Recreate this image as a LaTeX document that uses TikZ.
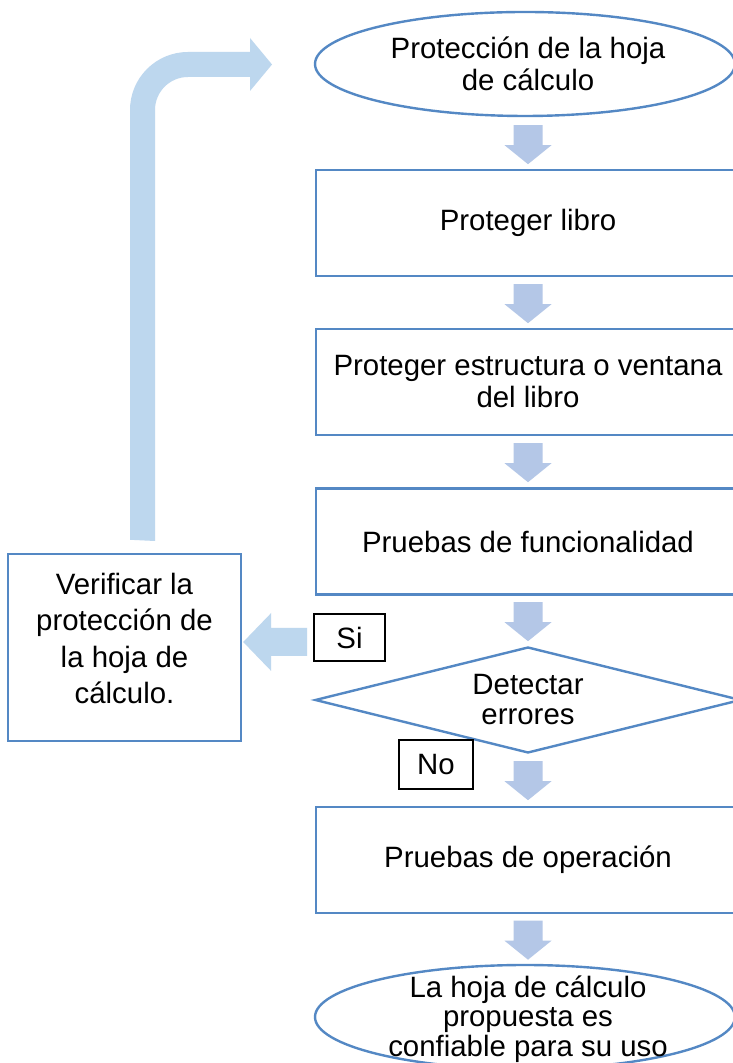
\documentclass[tikz,border=0pt]{standalone}
\usepackage{fontspec}
\setmainfont{Liberation Sans}
\usetikzlibrary{shapes.geometric,calc}
\definecolor{bord}{RGB}{84,136,196}
\definecolor{arrA}{RGB}{180,199,231}
\definecolor{arrB}{RGB}{189,215,238}
\newcommand\DArr[2]{\fill[arrA] ($#1+(-14.5,#2)$) -- ++(29,0) -- ++(0,-20) -- ++(9,0) -- ++(-23.5,-19) -- ++(-23.5,19) -- ++(9,0) -- cycle;}
\begin{document}
\begin{tikzpicture}[x=1pt,y=1pt,
  every node/.style={font=\fontsize{29.4}{32}\selectfont, align=center, inner sep=0pt},
  stepbox/.style={draw=bord, line width=2.4pt, rectangle, minimum width=424pt, minimum height=106pt},
  terminal/.style={draw=bord, line width=2.4pt, ellipse, minimum width=420pt, minimum height=104pt},
  decision/.style={draw=bord, line width=2.4pt, diamond, aspect=4, minimum width=426pt, minimum height=106pt},
  tag/.style={draw=black, line width=1.1pt, rectangle}]
\useasboundingbox (0,0) rectangle (733,1063);
\fill[white] (0,0) rectangle (733,1063);

% terminals
\node[terminal] (e1) at (525,999) {};
\node (e1t) at (528,999) {Protección de la hoja\\de cálculo};

\node[stepbox] (b1) at (528,840) {Proteger libro};
\node[stepbox] (b2) at (528,681) {Proteger estructura o ventana\\del libro};
\node[stepbox] (b3) at (528,521.5) {Pruebas de funcionalidad};
\node[decision] (d) at (528,363) {};
\node[font=\fontsize{29.4}{30}\selectfont] (dt) at (d.center) {Detectar\\errores};
\node[stepbox] (b4) at (528,203) {Pruebas de operación};

\node[terminal] (e2) at (525,46) {};
\node[font=\fontsize{29.4}{29.5}\selectfont] (e2t) at (528,44) {La hoja de cálculo\\propuesta es\\confiable para su uso};

\node[draw=bord, line width=2.4pt, rectangle, minimum width=233pt, minimum height=187pt] (v) at (124.5,415.5) {};
\node[font=\fontsize{29.4}{36.5}\selectfont] (vt) at ($(v.center)+(0,9)$) {Verificar la\\protección de\\la hoja de\\cálculo.};

\node[tag, minimum width=71pt, minimum height=47pt] (si) at (349.5,425.5) {Si};
\node[tag, minimum width=74pt, minimum height=49pt] (no) at (436,298.5) {No};

% down block arrows
\DArr{(b1.north |- e1.south)}{-8}
\DArr{(b1.south)}{-7}
\DArr{(b2.south)}{-7}
\DArr{(b3.south)}{-6.5}
\DArr{(d.south)}{-7}
\DArr{(b4.south)}{-6.5}

% Si arrow to the verification box
\coordinate (sitip) at ($(v.east)+(1,5.5)$);
\fill[arrB] (sitip) -- ++(28,29) -- ++(0,-15) -- ++(36,0) -- ++(0,-28) -- ++(-36,0) -- ++(0,-15) -- cycle;

% bent return arrow to the first terminal
\coordinate (bstart) at ($(v.north)+(5.5,13)$);
\fill[arrB] (bstart) -- (130,953) arc[start angle=180, end angle=90, radius=58]
  -- (250,1011) -- (250,1025) -- (272,998.5) -- (250,972) -- (250,986) -- (188,986)
  arc[start angle=90, end angle=180, radius=33] -- (155,522) -- cycle;
\end{tikzpicture}
\end{document}
